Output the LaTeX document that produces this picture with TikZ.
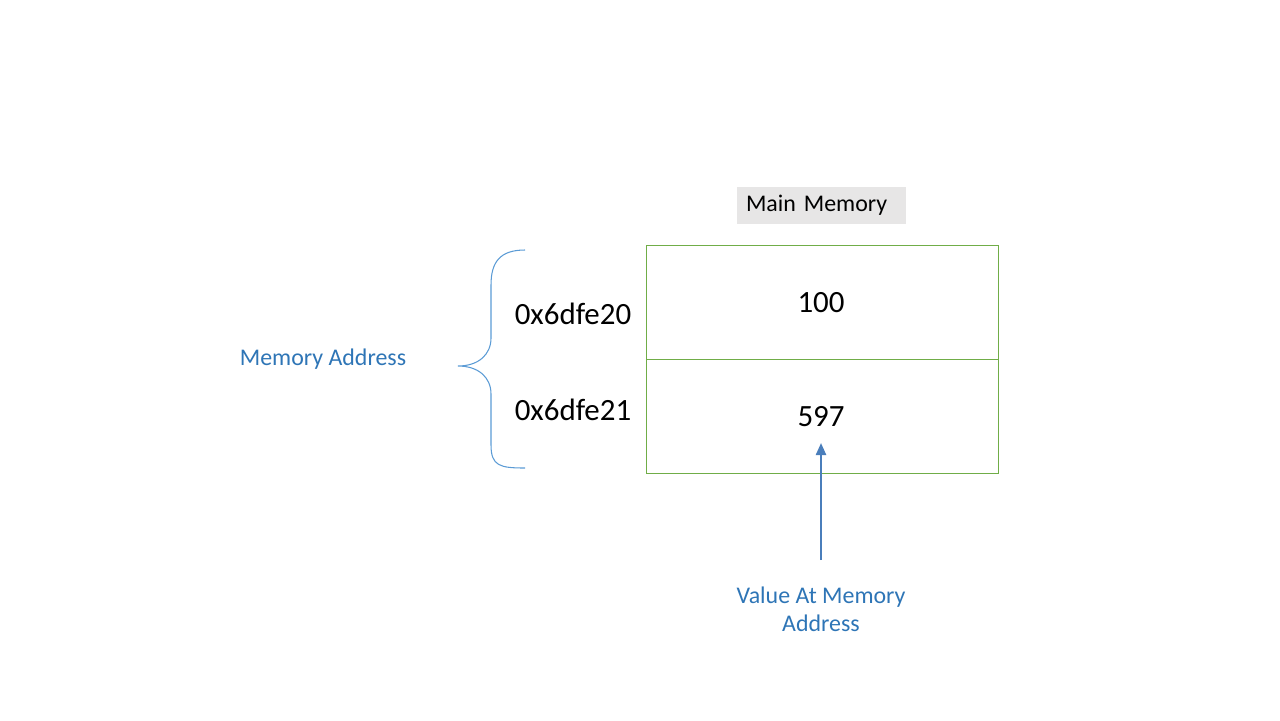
\documentclass[tikz,border=0pt]{standalone}
\usepackage{fontspec}
\setmainfont{Carlito}
\usepackage{tikz}
\usetikzlibrary{arrows.meta,positioning}
\definecolor{CellGreen}{HTML}{70AD47}
\definecolor{LabelBlue}{HTML}{2E75B6}
\definecolor{BraceBlue}{HTML}{5B9BD5}
\definecolor{ArrowBlue}{HTML}{4A7EBB}
\definecolor{TitleGray}{HTML}{E7E6E6}
\tikzset{
  cell/.style={draw=CellGreen,line width=0.5pt,minimum width=352*0.02cm,minimum height=114*0.02cm,inner sep=0pt,font=\fontsize{17.6}{20}\selectfont},
  addr/.style={font=\fontsize{17.6}{20}\selectfont},
  bluelbl/.style={text=LabelBlue,font=\fontsize{13.6}{15.9}\selectfont,align=center}
}
\begin{document}
\begin{tikzpicture}[x=0.02cm,y=-0.02cm]
        \useasboundingbox (0,0) rectangle (1280,720);
        % title
        \node[fill=TitleGray,text width=151*0.02cm,align=left,inner xsep=9*0.02cm,inner ysep=0pt,
          minimum height=37*0.02cm,font=\fontsize{13.6}{16}\selectfont] (title) at (821.5,205) {Main Memory};
        % memory cells
        \node[cell] (cellA) at (822,302) {};
        \node[cell] (cellB) at (822,416) {};
        \node[addr] (valA) at (821,303) {100};
        \node[addr] (valB) at (821,417) {597};
        \node[addr] (addrA) at (573,314) {0x6dfe20};
        \node[addr] (addrB) at (573,410) {0x6dfe21};
        % brace
        \draw[BraceBlue,line width=0.6pt] (525,250) .. controls (500,250) and (491,262) .. (491,285)
          -- (491,338) .. controls (491,355) and (478,366) .. (458,366)
          .. controls (478,366) and (491,377) .. (491,394)
          -- (491,445) .. controls (491,466) and (500,468) .. (525,468);
        \node[bluelbl] (memaddr) at (323,359) {Memory Address};
        % value label and arrow
        \node[bluelbl] (vallbl) at (821,609) {Value At Memory\\Address};
        \coordinate (tail) at (821,560);
        \coordinate (tip) at (821,443);
        \draw[ArrowBlue,line width=1.3pt,-{Triangle[length=2.4mm,width=2mm]}] (tail) -- (tip);
      \end{tikzpicture}
\end{document}
